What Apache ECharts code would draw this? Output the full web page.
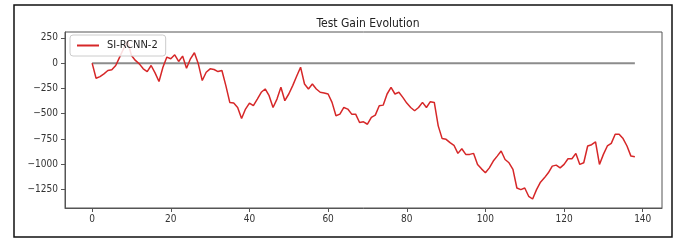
<!DOCTYPE html>
<html>
<head>
<meta charset="utf-8">
<script src="https://cdn.jsdelivr.net/npm/echarts@6/dist/echarts.min.js"></script>
<style>
  html, body { margin: 0; padding: 0; background: #fff; }
  #chart { width: 685px; height: 241px; }
</style>
</head>
<body>
<div id="chart"></div>
<script>
// values, one per step 0..138
var gains = [
    0, -149, -133, -106, -73, -66, -23, 60, 143, 220,
    76, 27, -7, -56, -83, -23, -96, -182, -40, 60,
    43, 83, 17, 70, -50, 43, 103, -7, -172, -90,
    -56, -63, -83, -73, -222, -388, -395, -438, -547, -454,
    -395, -421, -355, -288, -255, -322, -438, -355, -239, -371,
    -305, -222, -129, -40, -206, -255, -206, -255, -288, -295,
    -305, -388, -520, -504, -438, -454, -504, -504, -587, -580,
    -604, -537, -514, -421, -415, -305, -239, -305, -288, -338,
    -395, -438, -471, -438, -388, -438, -381, -388, -620, -746,
    -753, -786, -812, -892, -846, -902, -902, -892, -1001, -1045,
    -1084, -1035, -968, -919, -869, -952, -985, -1051, -1234, -1250,
    -1234, -1316, -1343, -1250, -1177, -1134, -1084, -1018, -1008, -1035,
    -1001, -945, -945, -892, -1001, -985, -819, -806, -779, -1001,
    -902, -819, -793, -703, -703, -746, -819, -919, -925
];
var baselineX = [0, 138];
var baselineY = [0, 0];
var xTicks = [0, 20, 40, 60, 80, 100, 120, 140];
var yTicks = [250, 0, -250, -500, -750, -1000, -1250];
var seriesName = 'SI-RCNN-2';
var chartTitle = 'Test Gain Evolution';

var font = "'DejaVu Sans Condensed', 'DejaVu Sans', sans-serif";

var chart = echarts.init(document.getElementById('chart'));

var gainData = gains.map(function (v, i) { return [i, v]; });
var baseData = baselineX.map(function (x, i) { return [x, baselineY[i]]; });

var option = {
    animation: false,
    backgroundColor: '#fff',
    title: {
        text: chartTitle,
        left: 363, top: 13, textAlign: 'center',
        textStyle: { fontFamily: font, fontSize: 12, fontWeight: 'normal', color: '#222' }
    },
    graphic: [{
        type: 'rect',
        shape: { x: 14, y: 5, width: 658, height: 232 },
        style: { fill: 'none', stroke: '#111', lineWidth: 1.5 },
        silent: true
    }],
    legend: {
        left: 70, top: 35,
        itemWidth: 22, itemHeight: 2, icon: 'rect', itemGap: 8,
        padding: [5, 8, 5, 7],
        backgroundColor: 'rgba(255,255,255,0.85)',
        borderColor: '#ccc', borderWidth: 1, borderRadius: 3,
        textStyle: { fontFamily: font, fontSize: 11, color: '#222', padding: [0, 0, 0, 3] },
        data: [seriesName]
    },
    grid: {
        left: 65, right: 23, top: 32, bottom: 33,
        show: true, borderColor: '#555', borderWidth: 1
    },
    xAxis: {
        type: 'value', min: -6.9, max: 144.9,
        splitLine: { show: false },
        axisLine: { show: true, onZero: false, lineStyle: { color: '#555' } },
        axisTick: { show: true, length: 4, customValues: xTicks, lineStyle: { color: '#555' } },
        axisLabel: {
            customValues: xTicks, margin: 6,
            fontFamily: font, fontSize: 10, color: '#333'
        }
    },
    yAxis: {
        type: 'value', min: -1432, max: 308,
        splitLine: { show: false },
        axisLine: { show: true, onZero: false, lineStyle: { color: '#555' } },
        axisTick: { show: true, length: 4, customValues: yTicks, lineStyle: { color: '#555' } },
        axisLabel: {
            customValues: yTicks, margin: 7,
            fontFamily: font, fontSize: 10, color: '#333',
            formatter: function (v) { return String(v).replace('-', '\u2212'); }
        }
    },
    series: [
        {
            name: 'zero', type: 'line', data: baseData,
            showSymbol: false, symbol: 'none',
            lineStyle: { color: '#8c8c8c', width: 2 },
            z: 2
        },
        {
            name: seriesName, type: 'line', data: gainData,
            showSymbol: false, symbol: 'none',
            lineStyle: { color: '#d62728', width: 1.5 },
            itemStyle: { color: '#d62728' },
            z: 3
        }
    ]
};

chart.setOption(option);
</script>
</body>
</html>
